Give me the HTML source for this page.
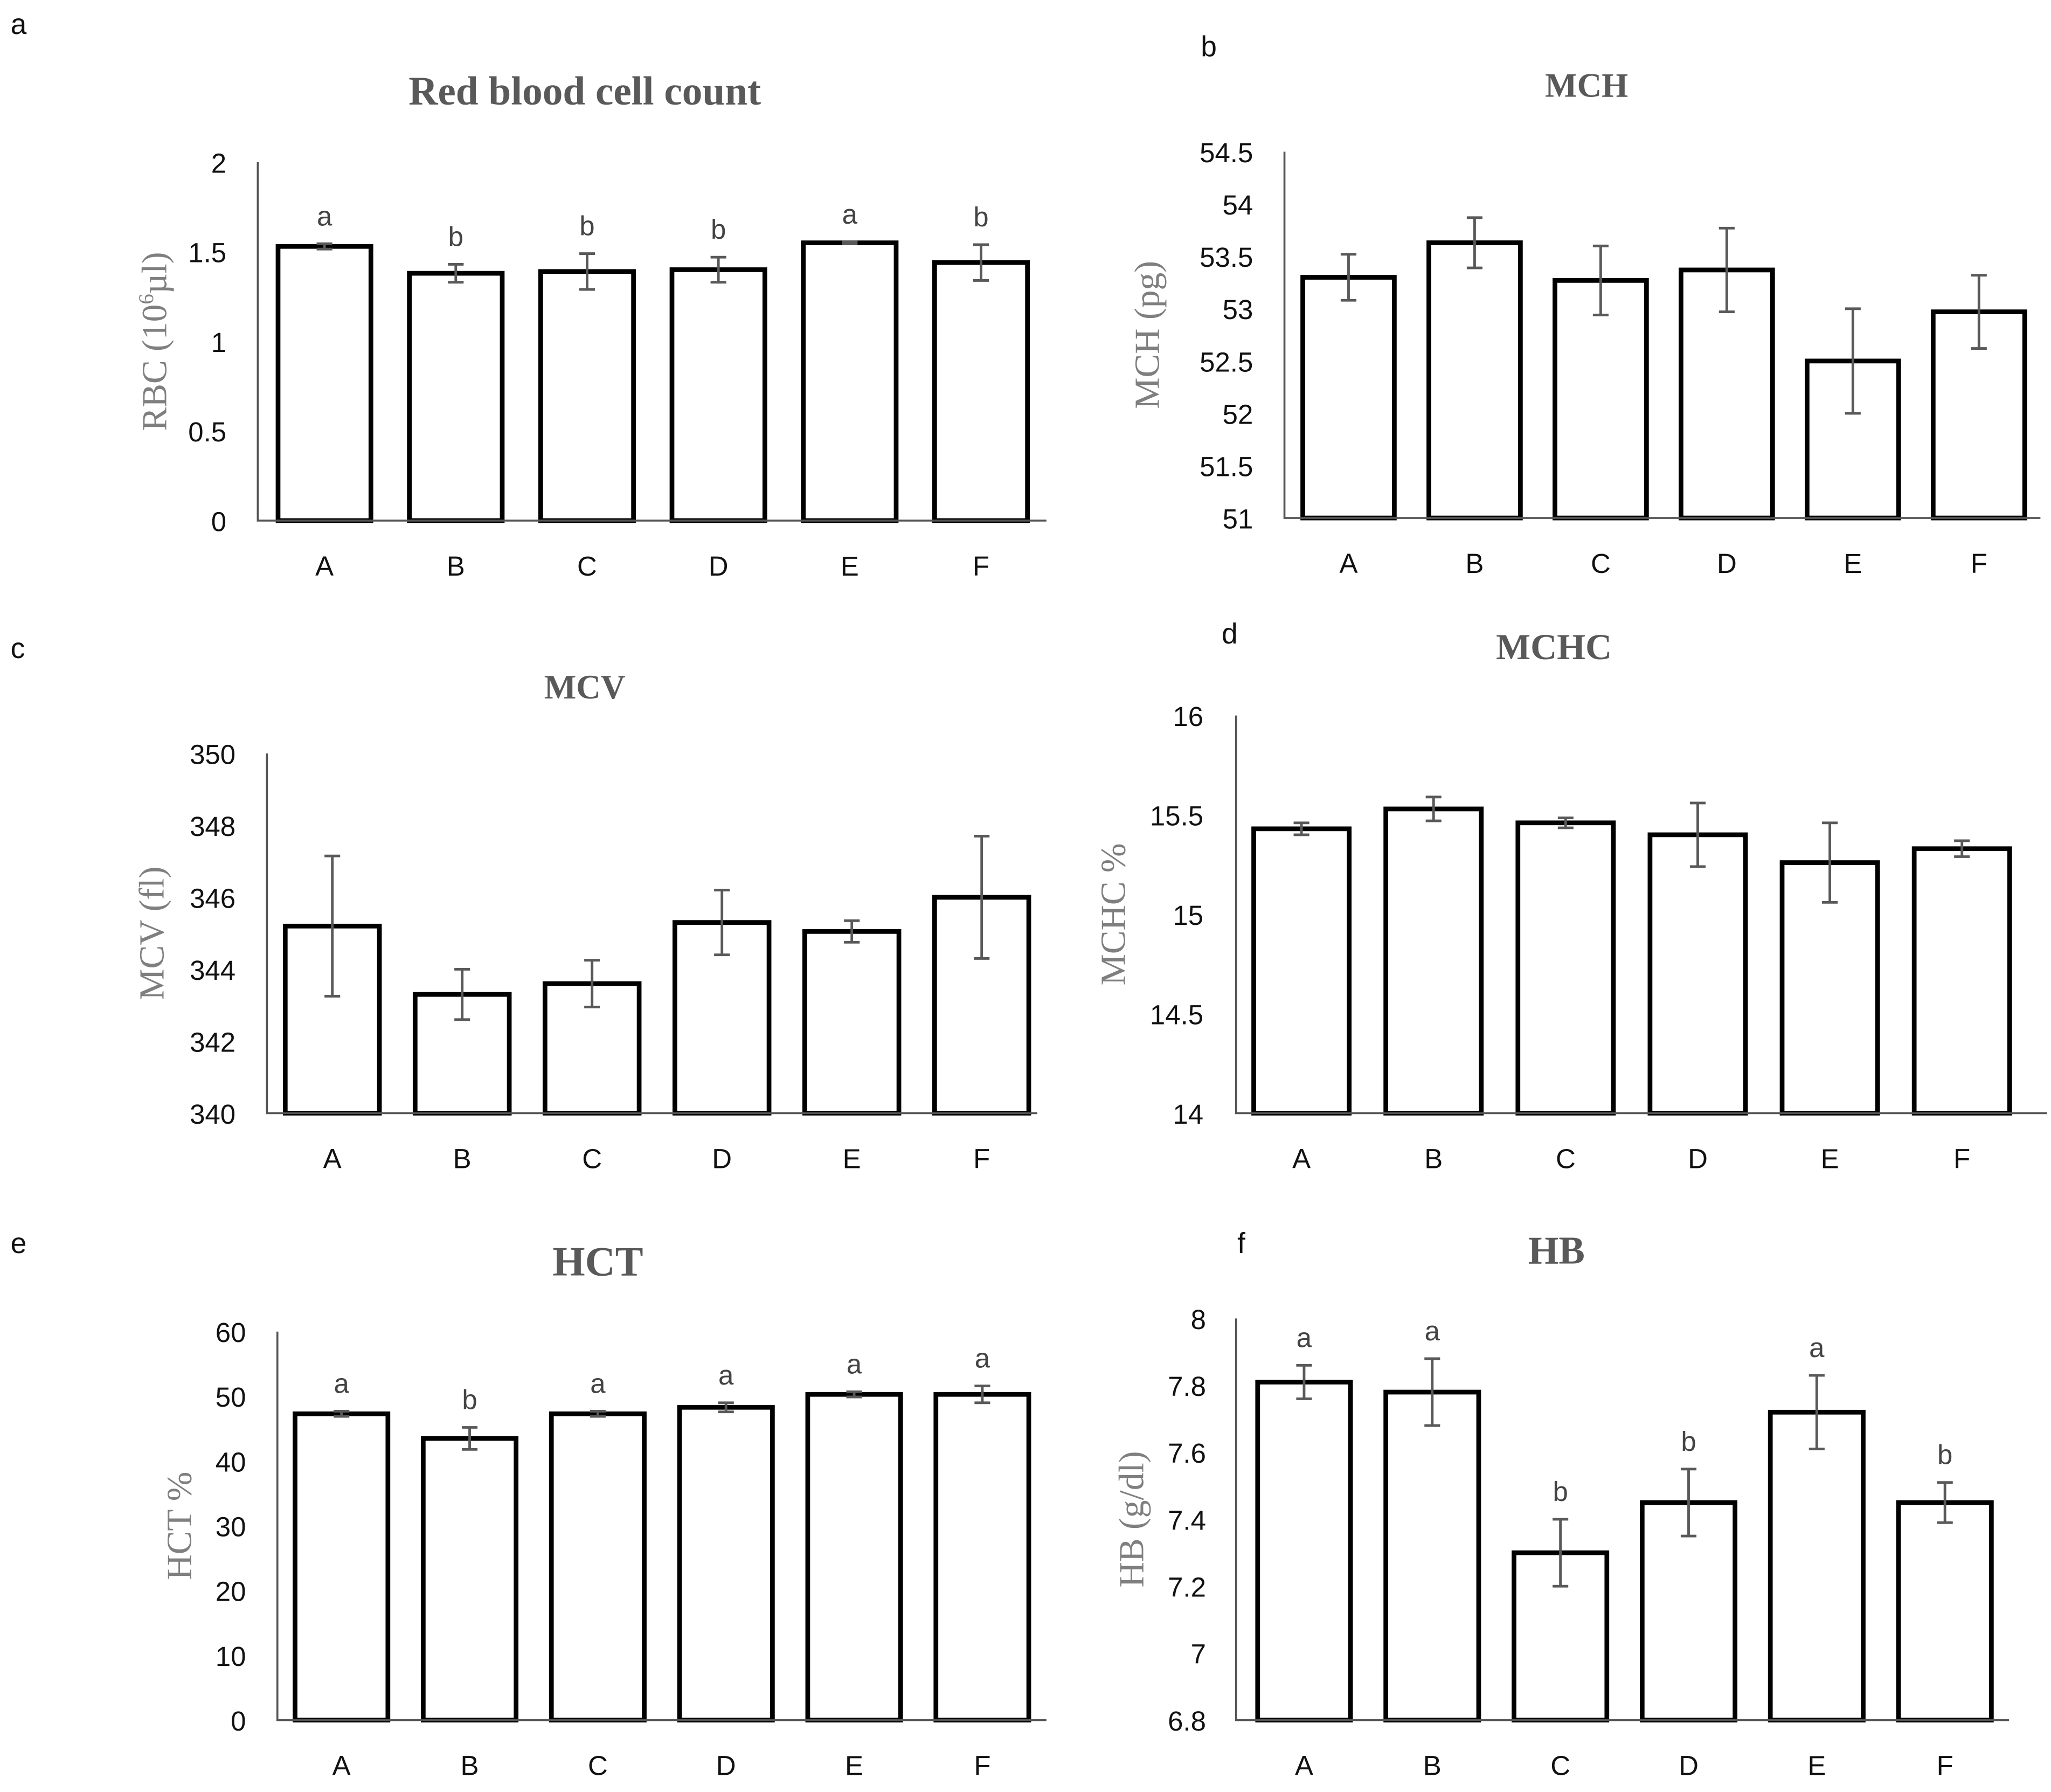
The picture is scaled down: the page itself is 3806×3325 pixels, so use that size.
<!DOCTYPE html>
<html><head><meta charset="utf-8"><style>
html,body{margin:0;padding:0;background:#fff;}
svg{display:block;}
.tick{font-family:"Liberation Sans",sans-serif;font-size:21px;fill:#111;}
.ttl{font-family:"Liberation Serif",serif;font-weight:bold;fill:#595959;}
.ylab{font-family:"Liberation Serif",serif;font-size:27px;fill:#7f7f7f;}
.plab{font-family:"Liberation Sans",sans-serif;font-size:22px;fill:#111;}
.sig{font-family:"Liberation Sans",sans-serif;font-size:21px;fill:#444;}
</style></head><body>
<svg id="fig" width="3806" height="3325" viewBox="0 0 1568 1370" xmlns="http://www.w3.org/2000/svg">
<text class="plab" x="8" y="26">a</text>
<text class="plab" x="918" y="43">b</text>
<text class="plab" x="8" y="503">c</text>
<text class="plab" x="934" y="492">d</text>
<text class="plab" x="8" y="958">e</text>
<text class="plab" x="946" y="958">f</text>
</svg>
<script>
const categories = ["A","B","C","D","E","F"];
const rbcValues = [1.53,1.38,1.39,1.40,1.55,1.44];
const rbcErrors = [0.015,0.05,0.1,0.07,0.005,0.1];
const rbcLetters = ["a","b","b","b","a","b"];
const rbcTicks = [0,0.5,1,1.5,2];
const mchValues = [53.30,53.63,53.27,53.37,52.50,52.97];
const mchErrors = [0.22,0.24,0.33,0.40,0.50,0.35];
const mchTicks = [51,51.5,52,52.5,53,53.5,54,54.5];
const mcvValues = [345.2,343.3,343.6,345.3,345.05,346.0];
const mcvErrors = [1.95,0.7,0.65,0.9,0.3,1.7];
const mcvTicks = [340,342,344,346,348,350];
const mchcValues = [15.43,15.53,15.46,15.40,15.26,15.33];
const mchcErrors = [0.03,0.06,0.025,0.16,0.2,0.04];
const mchcTicks = [14,14.5,15,15.5,16];
const hctValues = [47.3,43.5,47.3,48.3,50.3,50.3];
const hctErrors = [0.4,1.7,0.4,0.7,0.4,1.3];
const hctLetters = ["a","b","a","a","a","a"];
const hctTicks = [0,10,20,30,40,50,60];
const hbValues = [7.81,7.78,7.30,7.45,7.72,7.45];
const hbErrors = [0.05,0.10,0.10,0.10,0.11,0.06];
const hbLetters = ["a","a","b","b","a","b"];
const hbTicks = [6.8,7,7.2,7.4,7.6,7.8,8];

const NS="http://www.w3.org/2000/svg";
const svg=document.getElementById('fig');
function mk(tag,attrs,parent){const e=document.createElementNS(NS,tag);for(const k in attrs)e.setAttribute(k,attrs[k]);(parent||svg).appendChild(e);return e;}

function panel(cfg){
  const g=mk('g',{});
  
  
  const y=v=>cfg.y0-(v-cfg.min)/(cfg.max-cfg.min)*(cfg.y0-cfg.y1);
  const cx=i=>cfg.first+i*cfg.step;
  const t=mk('text',{class:'ttl',x:cfg.tx,y:cfg.ty,'text-anchor':'middle','font-size':cfg.tsize},g);
  t.textContent=cfg.title;
  
  
  const yl=mk('text',{class:'ylab',x:0,y:0,'text-anchor':'middle',transform:`translate(${cfg.ylx},${(cfg.y0+cfg.y1)/2}) rotate(-90)`},g);
  yl.innerHTML=cfg.ylabel;
  
  
  cfg.ticks.forEach(v=>{
    const tt=mk('text',{class:'tick',x:cfg.tickx,y:y(v)+8,'text-anchor':'end'},g);
    tt.textContent=String(v);
    
    
  });
  cfg.values.forEach((v,i)=>{
    const r=mk('rect',{x:cx(i)-cfg.bw/2,y:y(v),width:cfg.bw,height:cfg.y0-y(v),fill:'#fff',stroke:'#000','stroke-width':3.6},g);
    
    
    const e=cfg.errors[i];
    const eg=mk('path',{d:`M${cx(i)},${y(v+e)}V${y(v-e)}M${cx(i)-6},${y(v+e)}H${cx(i)+6}M${cx(i)-6},${y(v-e)}H${cx(i)+6}`,stroke:'#595959','stroke-width':2,fill:'none'},g);
    
    
    if(cfg.letters){
      const lt=mk('text',{class:'sig',x:cx(i),y:y(v+e)-14,'text-anchor':'middle'},g);
      lt.textContent=cfg.letters[i];
      
      
    }
    const xl=mk('text',{class:'tick',x:cx(i),y:cfg.y0+42,'text-anchor':'middle'},g);
    xl.textContent=categories[i];
    
    
  });
  const ax=mk('path',{d:`M${cfg.ax},${cfg.y1}V${cfg.y0}H${cfg.x1}`,stroke:'#555','stroke-width':1.5,fill:'none'},g);
  
  
}

panel({name:'rbc',title:'Red blood cell count',tx:447,ty:80,tsize:31,ylabel:'RBC (10<tspan font-size="16" dy="-10">6</tspan><tspan dy="10">µl)</tspan>',ylx:127,
  values:rbcValues,errors:rbcErrors,letters:rbcLetters,ticks:rbcTicks,min:0,max:2,y0:398,y1:124,ax:197,x1:800,first:248,step:100.4,bw:71,tickx:173});
panel({name:'mch',title:'MCH',tx:1213,ty:74,tsize:26,ylabel:'MCH (pg)',ylx:886,
  values:mchValues,errors:mchErrors,ticks:mchTicks,min:51,max:54.5,y0:396,y1:116,ax:982,x1:1560,first:1031,step:96.4,bw:70,tickx:958});
panel({name:'mcv',title:'MCV',tx:447,ty:534,tsize:26,ylabel:'MCV (fl)',ylx:125,
  values:mcvValues,errors:mcvErrors,ticks:mcvTicks,min:340,max:350,y0:851,y1:576,ax:204,x1:793,first:254,step:99.3,bw:72,tickx:180});
panel({name:'mchc',title:'MCHC',tx:1188,ty:504,tsize:28,ylabel:'MCHC %',ylx:860,
  values:mchcValues,errors:mchcErrors,ticks:mchcTicks,min:14,max:16,y0:851,y1:547,ax:945,x1:1565,first:995,step:101,bw:73,tickx:920});
panel({name:'hct',title:'HCT',tx:457,ty:975,tsize:32,ylabel:'HCT %',ylx:146,
  values:hctValues,errors:hctErrors,letters:hctLetters,ticks:hctTicks,min:0,max:60,y0:1315,y1:1018,ax:212,x1:800,first:261,step:98,bw:71,tickx:188});
panel({name:'hb',title:'HB',tx:1190,ty:966,tsize:30,ylabel:'HB (g/dl)',ylx:874,
  values:hbValues,errors:hbErrors,letters:hbLetters,ticks:hbTicks,min:6.8,max:8,y0:1315,y1:1008,ax:945,x1:1536,first:997,step:98,bw:71,tickx:922});
</script>
</body></html>
